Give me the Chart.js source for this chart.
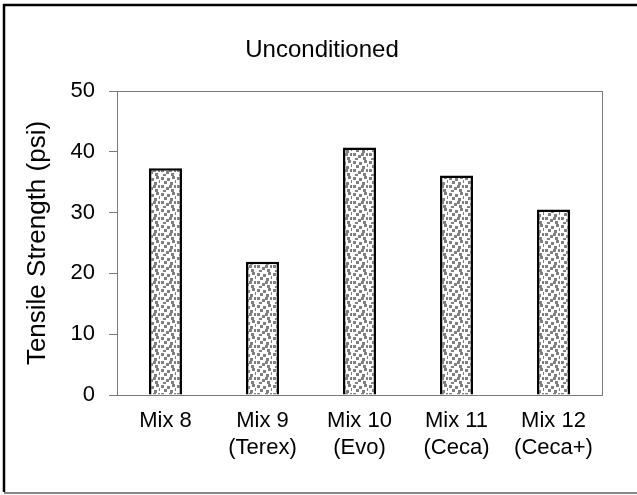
<!DOCTYPE html>
<html>
<head>
<meta charset="utf-8">
<script src="https://cdn.jsdelivr.net/npm/chart.js@4"></script>
<style>
  body { margin: 0; background: #fff; }
  #wrap { width: 637px; height: 495px; }
</style>
</head>
<body>
<div id="wrap"><canvas id="chart" width="637" height="495"></canvas></div>
<script>
// data
const categories = [['Mix 8'], ['Mix 9', '(Terex)'], ['Mix 10', '(Evo)'], ['Mix 11', '(Ceca)'], ['Mix 12', '(Ceca+)']];
const strength = [37.3, 21.9, 40.7, 36.1, 30.5];
const yTicks = [0, 10, 20, 30, 40, 50];

const FONT = 'Liberation Sans, Arial, sans-serif';
const AXIS_GREY = '#7a7a7a';

// dotted fill like the excel pattern
function makeDots() {
  const c = document.createElement('canvas');
  c.width = 16; c.height = 16;
  const g = c.getContext('2d');
  g.fillStyle = '#fff';
  g.fillRect(0, 0, 16, 16);
  g.fillStyle = '#808080';
  const dots = [[1,1],[7,2],[12,0],[4,5],[10,6],[14,9],[1,9],[6,11],[11,13],[3,14],[9,9],[15,4]];
  dots.forEach(d => g.fillRect(d[0], d[1], 3, 3));
  return g.createPattern(c, 'repeat');
}

const frame = {
  id: 'frame',
  afterDraw(chart) {
    const ctx = chart.ctx;
    const a = chart.chartArea;
    ctx.save();
    // right edge of plot box
    ctx.strokeStyle = AXIS_GREY;
    ctx.lineWidth = 1;
    ctx.beginPath();
    ctx.moveTo(Math.round(a.right) + 0.5, a.top);
    ctx.lineTo(Math.round(a.right) + 0.5, a.bottom);
    ctx.stroke();
    // outer chart border
    ctx.strokeStyle = '#000';
    ctx.lineWidth = 2.5;
    ctx.beginPath();
    ctx.moveTo(4, 492);
    ctx.lineTo(4, 5);
    ctx.lineTo(637, 5);
    ctx.stroke();
    ctx.strokeStyle = '#888';
    ctx.lineWidth = 2;
    ctx.beginPath();
    ctx.moveTo(4, 493);
    ctx.lineTo(637, 493);
    ctx.stroke();
    ctx.restore();
  }
};

const chart = new Chart(document.getElementById('chart'), {
  type: 'bar',
  data: {
    labels: categories,
    datasets: [{
      data: strength,
      backgroundColor: makeDots(),
      borderColor: '#000',
      borderWidth: 2.5,
      barPercentage: 0.34,
      categoryPercentage: 1
    }]
  },
  options: {
    responsive: false,
    animation: false,
    layout: { padding: { left: 7, right: 0, top: 0, bottom: 0 } },
    plugins: {
      legend: { display: false },
      tooltip: { enabled: false },
      title: {
        display: true,
        text: 'Unconditioned',
        color: '#000',
        font: { family: FONT, size: 24, weight: 'normal' },
        padding: { top: 35.6, bottom: 26.6 }
      }
    },
    scales: {
      x: {
        afterFit: s => { s.height = 100; },
        grid: {
          drawTicks: false,
          color: c => c.index === categories.length ? AXIS_GREY : 'transparent'
        },
        border: { color: AXIS_GREY, width: 1 },
        ticks: { color: '#000', padding: 13, maxRotation: 0, font: { family: FONT, size: 22 } }
      },
      y: {
        min: 0,
        max: 50,
        afterFit: s => { s.width = 110; },
        afterBuildTicks: s => { s.ticks = yTicks.map(v => ({ value: v })); },
        grid: {
          tickLength: 8,
          tickColor: AXIS_GREY,
          color: c => c.tick && c.tick.value === 50 ? AXIS_GREY : 'transparent'
        },
        border: { color: AXIS_GREY, width: 1 },
        ticks: { color: '#000', padding: 14, font: { family: FONT, size: 22 } },
        title: {
          display: true,
          text: 'Tensile Strength (psi)',
          color: '#000',
          font: { family: FONT, size: 26 },
          padding: { top: 15, bottom: 0 }
        }
      },
      // empty right-hand gutter, keeps the title centred like the original
      yPad: {
        position: 'right',
        afterFit: s => { s.width = 35; },
        grid: { display: false },
        border: { display: false },
        ticks: { display: false }
      }
    }
  },
  plugins: [frame]
});
</script>
</body>
</html>
